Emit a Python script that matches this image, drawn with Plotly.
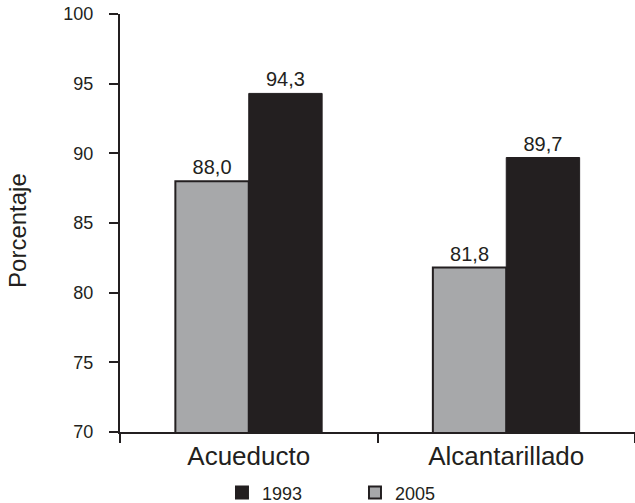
import plotly.graph_objects as go

categories = ["Acueducto", "Alcantarillado"]
values_2005 = [88.0, 81.8]
values_1993 = [94.3, 89.7]
y_ticks = [70, 75, 80, 85, 90, 95, 100]
y_title = "Porcentaje"

DARK = "#231f20"
GRAY = "#a7a8aa"
FONT = "Liberation Sans, Arial, sans-serif"

fig = go.Figure()
fig.add_trace(go.Bar(
    x=categories, y=values_2005, name="2005",
    marker=dict(color=GRAY, line=dict(color=DARK, width=2)),
    texttemplate="%{y:.1f}", textposition="outside",
    textfont=dict(size=20, color=DARK, family=FONT),
    cliponaxis=False, showlegend=False,
))
fig.add_trace(go.Bar(
    x=categories, y=values_1993, name="1993",
    marker=dict(color=DARK, line=dict(color=DARK, width=1)),
    texttemplate="%{y:.1f}", textposition="outside",
    textfont=dict(size=20, color=DARK, family=FONT),
    cliponaxis=False, showlegend=False,
))
# legend entries
fig.add_trace(go.Scatter(
    x=[None], y=[None], mode="markers", name="1993",
    marker=dict(symbol="square", size=18, color=DARK, line=dict(color=DARK, width=1.5)),
))
fig.add_trace(go.Scatter(
    x=[None], y=[None], mode="markers", name="2005",
    marker=dict(symbol="square", size=17, color=GRAY, line=dict(color=DARK, width=2.5)),
))

fig.add_annotation(
    text=y_title, textangle=-90, showarrow=False,
    xref="paper", yref="paper", x=-0.198, y=0.481,
    xanchor="center", yanchor="middle",
    font=dict(size=24, color=DARK, family=FONT),
)

fig.update_layout(
    width=635, height=503,
    margin=dict(l=120, r=0, t=14, b=71, autoexpand=False),
    paper_bgcolor="white", plot_bgcolor="white",
    barmode="group", bargap=0.43, bargroupgap=0,
    separators=",.",
    font=dict(family=FONT, color=DARK),
    showlegend=True,
    legend=dict(
        orientation="h", x=0.198, xanchor="left", y=-0.19, yanchor="bottom",
        entrywidth=88, entrywidthmode="pixels",
        font=dict(size=18, color=DARK), itemsizing="constant",
        traceorder="normal", bgcolor="rgba(0,0,0,0)",
    ),
    xaxis=dict(
        type="category", range=[-0.5, 1.5], tickson="boundaries",
        ticks="outside", ticklen=9, tickwidth=2, tickcolor=DARK,
        showline=True, linecolor=DARK, linewidth=2,
        tickfont=dict(size=26, color=DARK), showgrid=False,
    ),
    yaxis=dict(
        range=[70, 100], tickvals=y_ticks,
        ticks="outside", ticklen=9, tickwidth=2, tickcolor=DARK,
        showline=True, linecolor=DARK, linewidth=2,
        tickfont=dict(size=18, color=DARK), showgrid=False, zeroline=False,
        ticklabelstandoff=12,
    ),
)

fig.write_html("out.html")
